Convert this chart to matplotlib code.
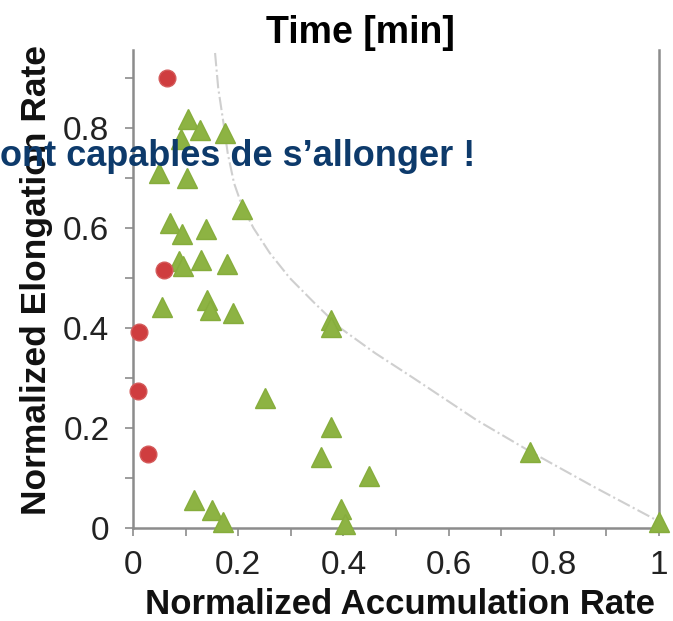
import matplotlib
matplotlib.use("Agg")
import matplotlib.pyplot as plt
from matplotlib.ticker import MultipleLocator

plt.rcParams['font.family'] = ['Liberation Sans', 'DejaVu Sans']

# cellules qui ne s'allongent pas (rouge)
rouge_x = [0.064, 0.058, 0.012, 0.010, 0.029]
rouge_y = [0.900, 0.516, 0.393, 0.275, 0.148]

# cellules qui s'allongent (vert)
vert_x = [0.104, 0.127, 0.174, 0.091, 0.050, 0.102, 0.207, 0.070, 0.094, 0.138,
          0.088, 0.095, 0.129, 0.179, 0.055, 0.141, 0.146, 0.191, 0.376, 0.376,
          0.251, 0.376, 0.357, 0.449, 0.395, 0.403, 0.116, 0.151, 0.171, 0.755, 1.000]
vert_y = [0.819, 0.796, 0.791, 0.779, 0.711, 0.701, 0.638, 0.611, 0.589, 0.598,
          0.535, 0.525, 0.537, 0.528, 0.443, 0.456, 0.437, 0.431, 0.416, 0.403,
          0.261, 0.203, 0.143, 0.104, 0.039, 0.009, 0.056, 0.037, 0.013, 0.153, 0.013]

# courbe limite
courbe_x = [0.156, 0.162, 0.172, 0.180, 0.192, 0.207, 0.229, 0.260, 0.298,
            0.345, 0.394, 0.460, 0.533, 0.653, 0.755, 0.875, 1.0]
courbe_y = [0.950, 0.880, 0.810, 0.750, 0.690, 0.645, 0.600, 0.550, 0.500,
            0.450, 0.400, 0.350, 0.300, 0.216, 0.153, 0.083, 0.013]

xticks = [0, 0.2, 0.4, 0.6, 0.8, 1]
xlabels = ['0', '0.2', '0.4', '0.6', '0.8', '1']
yticks = [0, 0.2, 0.4, 0.6, 0.8]
ylabels = ['0', '0.2', '0.4', '0.6', '0.8']

fig = plt.figure(figsize=(6.73, 6.21), dpi=100)
ax = fig.add_axes([133/673, 1 - 528/621, 526/673, 478/621])

gris = '#8c8c8c'
ax.plot(courbe_x, courbe_y, linestyle='-.', color='#cfcfcf', lw=1.5, zorder=1)
ax.plot(vert_x, vert_y, linestyle='none', marker='^', ms=14, color='#8db343',
        mec='#86ad3c', clip_on=False, zorder=3)
ax.plot(rouge_x, rouge_y, linestyle='none', marker='o', ms=12, color='#cf3d3f',
        mec='#d45a5a', clip_on=False, zorder=3)

ax.set_xlim(0, 1)
ax.set_ylim(0, 0.956)
ax.set_xticks(xticks)
ax.set_xticklabels(xlabels)
ax.set_yticks(yticks)
ax.set_yticklabels(ylabels)
ax.xaxis.set_minor_locator(MultipleLocator(0.1))
ax.yaxis.set_minor_locator(MultipleLocator(0.1))
ax.tick_params(which='both', direction='out', length=6, width=1.2, color=gris,
               labelsize=24, labelcolor='#222222')
ax.tick_params(axis='y', pad=11)
ax.tick_params(axis='x', pad=10)

ax.spines['top'].set_visible(False)
for s in ['left', 'bottom', 'right']:
    ax.spines[s].set_color(gris)
    ax.spines[s].set_linewidth(1.8)

fig.text(360/673, 1 - 33/621, 'Time [min]', ha='center', va='center',
         fontsize=27, fontweight='bold')
fig.text(400/673, 1 - 605/621, 'Normalized Accumulation Rate', ha='center',
         va='center', fontsize=25, fontweight='bold', color='#111111')
fig.text(37/673, 1 - 280/621, 'Normalized Elongation Rate', ha='center',
         va='center', rotation=90, fontsize=25.5, fontweight='bold', color='#111111')
fig.text(0, 1 - 166/621, 'ont capables de s\u2019allonger !', ha='left',
         va='baseline', fontsize=26, fontweight='bold', color='#0d3a6b', zorder=10)

fig.savefig('out.png', dpi=100)
